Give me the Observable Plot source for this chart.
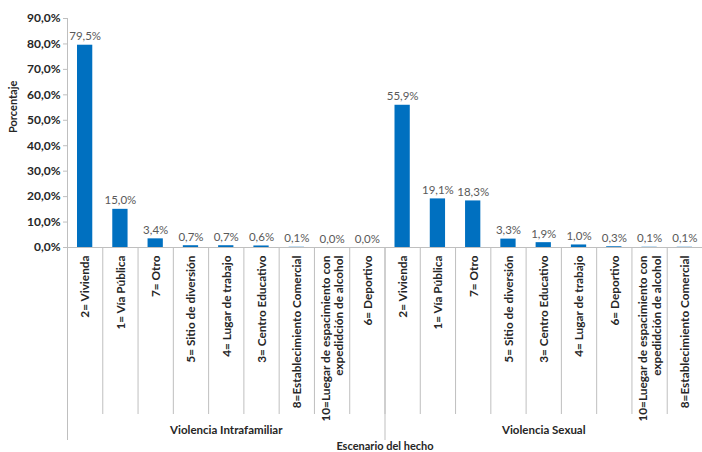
<!DOCTYPE html>
<html><head><meta charset="utf-8">
<script src="https://cdn.jsdelivr.net/npm/d3@7"></script>
<script src="https://cdn.jsdelivr.net/npm/@observablehq/plot@0.6"></script>
<style>body{margin:0;background:#fff;} svg{display:block;}</style>
</head><body><div id="chart"></div>
<script>
const groups = ["Violencia Intrafamiliar", "Violencia Sexual"];
const categoriesIntra = ["2= Vivienda", "1= Vía Pública", "7= Otro", "5= Sitio de diversión", "4= Lugar de trabajo", "3= Centro Educativo", "8=Establecimiento Comercial", "10=Luegar de espacimiento con\nexpedidción de alcohol", "6= Deportivo"];
const valuesIntra = [79.5, 15.0, 3.4, 0.7, 0.7, 0.6, 0.1, 0.0, 0.0];
const categoriesSexual = ["2= Vivienda", "1= Vía Pública", "7= Otro", "5= Sitio de diversión", "3= Centro Educativo", "4= Lugar de trabajo", "6= Deportivo", "10=Luegar de espacimiento con\nexpedidción de alcohol", "8=Establecimiento Comercial"];
const valuesSexual = [55.9, 19.1, 18.3, 3.3, 1.9, 1.0, 0.3, 0.1, 0.1];
const yTicks = [0, 10, 20, 30, 40, 50, 60, 70, 80, 90];
const xTitle = "Escenario del hecho";
const yTitle = "Porcentaje";

const rows = [];
[[categoriesIntra, valuesIntra], [categoriesSexual, valuesSexual]].forEach(([cats, vals], g) => {
  cats.forEach((c, k) => rows.push({group: groups[g], g, cat: c, value: vals[k], i: g * cats.length + k}));
});
const n = rows.length;
const per = categoriesIntra.length;
const groupRows = groups.map((name, g) => ({name, mid: g * per + per / 2}));
const fmt = v => v.toFixed(1).replace(".", ",") + "%";
const grid = "#bfbfbf";

const chart = Plot.plot({
  width: 702, height: 452,
  marginLeft: 67, marginRight: 0, marginTop: 18, marginBottom: 205,
  style: {fontFamily: "Lato, 'Open Sans', sans-serif", fontSize: "10px", background: "#fff"},
  x: {type: "linear", domain: [0, n], axis: null},
  y: {domain: [0, 90], axis: null},
  marks: [
    Plot.axisY({ticks: yTicks, tickSize: 4, tickFormat: fmt, label: null, stroke: grid, strokeOpacity: 1, fill: "#262626", fontWeight: "bold", fontSize: 12, tickPadding: 3}),
    Plot.ruleX([0], {stroke: grid}),
    Plot.axisX({ticks: d3.range(0, n + 1), tickSize: 167, tickFormat: () => "", stroke: grid, strokeOpacity: 1, label: null}),
    Plot.axisX({ticks: [0, per, n], tickSize: 193, tickFormat: () => "", stroke: grid, strokeOpacity: 1, label: null}),
    Plot.ruleY([0], {stroke: grid}),
    Plot.rectY(rows, {x1: d => d.i, x2: d => d.i + 1, y: "value", fill: "#0070C0", insetLeft: 10, insetRight: 10}),
    Plot.text(rows, {x: d => d.i + 0.5, y: "value", text: d => fmt(d.value), lineAnchor: "bottom", dy: -5, fill: "#595959", fontSize: 11.5}),
    Plot.text(rows, {x: d => d.i + 0.5, y: 0, text: "cat", rotate: -90, textAnchor: "end", dy: 8, fill: "#262626", fontWeight: "bold", fontSize: 11.8, lineHeight: 1.15}),
    Plot.text(groupRows, {x: "mid", y: 0, text: "name", dy: 183, fill: "#262626", fontWeight: "bold", fontSize: 11.5}),
    Plot.text([xTitle], {x: per, y: 0, text: d => d, dy: 199, fill: "#262626", fontWeight: "bold", fontSize: 11}),
    Plot.text([yTitle], {frameAnchor: "left", rotate: -90, dx: -54, text: d => d, fill: "#262626", fontWeight: "bold", fontSize: 11})
  ]
});
document.getElementById("chart").appendChild(chart);
</script>
</body></html>
